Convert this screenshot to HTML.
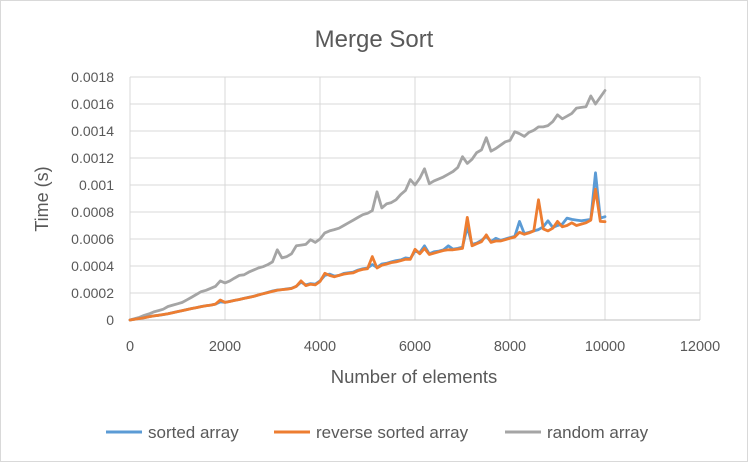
<!DOCTYPE html>
<html><head><meta charset="utf-8"><style>
body{margin:0;background:#fff;}
svg{display:block;font-family:"Liberation Sans",sans-serif;}
</style></head><body>
<svg id="chart" width="748" height="462" viewBox="0 0 748 462">
<rect x="0.5" y="0.5" width="747" height="461" fill="#fff" stroke="#d9d9d9"/>
<text x="374" y="47" text-anchor="middle" font-size="24" fill="#595959">Merge Sort</text>
<g id="grid"></g>
<g id="axes"></g>
<g id="series"></g>
<text x="414" y="383" text-anchor="middle" font-size="18.5" fill="#595959">Number of elements</text>
<text transform="translate(48,199) rotate(-90)" text-anchor="middle" font-size="18" fill="#595959">Time (s)</text>
<g>
<g><line x1="106" y1="432" x2="142" y2="432" stroke="#5b9bd5" stroke-width="3"/><text x="148" y="438" font-size="17" fill="#595959">sorted array</text></g>
<g><line x1="274" y1="432" x2="310" y2="432" stroke="#ed7d31" stroke-width="3"/><text x="316" y="438" font-size="17" fill="#595959">reverse sorted array</text></g>
<g><line x1="505" y1="432" x2="541" y2="432" stroke="#a5a5a5" stroke-width="3"/><text x="547" y="438" font-size="17" fill="#595959">random array</text></g>
</g>
</svg>
<script>
const xCategories=[0,100,200,300,400,500,600,700,800,900,1000,1100,1200,1300,1400,1500,1600,1700,1800,1900,2000,2100,2200,2300,2400,2500,2600,2700,2800,2900,3000,3100,3200,3300,3400,3500,3600,3700,3800,3900,4000,4100,4200,4300,4400,4500,4600,4700,4800,4900,5000,5100,5200,5300,5400,5500,5600,5700,5800,5900,6000,6100,6200,6300,6400,6500,6600,6700,6800,6900,7000,7100,7200,7300,7400,7500,7600,7700,7800,7900,8000,8100,8200,8300,8400,8500,8600,8700,8800,8900,9000,9100,9200,9300,9400,9500,9600,9700,9800,9900,10000];
const sortedVals=[0,0.05,0.12,0.18,0.25,0.3,0.35,0.4,0.47,0.55,0.62,0.7,0.78,0.85,0.92,1.0,1.05,1.1,1.18,1.35,1.3,1.38,1.45,1.52,1.6,1.68,1.75,1.85,1.95,2.05,2.15,2.22,2.25,2.3,2.35,2.5,2.8,2.6,2.7,2.65,2.9,3.3,3.4,3.25,3.3,3.45,3.5,3.55,3.7,3.8,3.85,4.1,3.9,4.15,4.2,4.3,4.4,4.45,4.6,4.55,5.1,5.0,5.5,4.9,5.05,5.1,5.2,5.5,5.25,5.3,5.4,6.9,5.6,5.7,5.9,6.2,5.8,6.05,5.9,6.0,6.1,6.2,7.3,6.4,6.5,6.6,6.7,6.9,7.35,6.85,7.0,7.1,7.55,7.45,7.4,7.35,7.4,7.45,10.9,7.55,7.65];
const reverseVals=[0,0.05,0.11,0.17,0.24,0.3,0.35,0.41,0.47,0.54,0.62,0.7,0.77,0.85,0.92,0.99,1.05,1.1,1.18,1.48,1.3,1.37,1.45,1.52,1.6,1.67,1.75,1.85,1.95,2.03,2.12,2.2,2.25,2.28,2.33,2.5,2.9,2.55,2.65,2.6,2.85,3.46,3.3,3.2,3.3,3.4,3.45,3.5,3.65,3.75,3.8,4.7,3.85,4.05,4.15,4.25,4.3,4.4,4.5,4.5,5.24,4.9,5.3,4.85,4.95,5.05,5.15,5.2,5.2,5.25,5.3,7.6,5.5,5.65,5.8,6.3,5.75,5.85,5.85,5.95,6.05,6.15,6.5,6.35,6.45,6.6,8.9,6.75,6.6,6.8,7.3,6.9,7.0,7.2,7.0,7.1,7.2,7.4,9.7,7.3,7.28];
const randomVals=[0,0.1,0.2,0.35,0.45,0.6,0.7,0.8,1.0,1.1,1.2,1.3,1.5,1.7,1.9,2.1,2.2,2.35,2.5,2.9,2.75,2.9,3.1,3.3,3.35,3.55,3.7,3.85,3.95,4.1,4.3,5.2,4.6,4.7,4.9,5.5,5.55,5.6,5.95,5.75,6.0,6.45,6.6,6.7,6.8,7.0,7.2,7.4,7.6,7.8,7.9,8.1,9.5,8.3,8.6,8.7,8.9,9.3,9.6,10.4,10.0,10.5,11.2,10.1,10.3,10.45,10.6,10.8,11.0,11.3,12.1,11.6,11.9,12.4,12.6,13.5,12.5,12.7,12.95,13.2,13.3,13.95,13.8,13.6,13.9,14.05,14.3,14.3,14.4,14.7,15.2,14.9,15.1,15.3,15.7,15.75,15.8,16.6,16.0,16.5,17.0];
const xTicks=[0,2000,4000,6000,8000,10000,12000];
const yTicks=[0,0.0002,0.0004,0.0006,0.0008,0.001,0.0012,0.0014,0.0016,0.0018];
const yTickLabels=["0","0.0002","0.0004","0.0006","0.0008","0.001","0.0012","0.0014","0.0016","0.0018"];
const NS='http://www.w3.org/2000/svg';
const X0=130,X1=700,Y0=320,Y1=77;
function xs(v){return X0+(v/12000)*(X1-X0);}
function ys(v){return Y0-(v/0.0018)*(Y0-Y1);}
const grid=document.getElementById('grid'),axes=document.getElementById('axes'),ser=document.getElementById('series');
function mk(t,a,p){const e=document.createElementNS(NS,t);for(const k in a)e.setAttribute(k,a[k]);p.appendChild(e);return e;}
yTicks.forEach((v,i)=>{
 const l=mk('line',{x1:X0,x2:X1,y1:ys(v),y2:ys(v),stroke:'#d9d9d9','stroke-width':1},grid);
 
 
 const t=mk('text',{x:114,y:ys(v)+5,'text-anchor':'end','font-size':14,fill:'#595959'},axes);
 t.textContent=yTickLabels[i];
 
 
});
xTicks.forEach(v=>{
 const l=mk('line',{x1:xs(v),x2:xs(v),y1:Y1,y2:Y0,stroke:'#d9d9d9','stroke-width':1},grid);
 
 
 const t=mk('text',{x:xs(v),y:351,'text-anchor':'middle','font-size':14.5,fill:'#595959'},axes);
 t.textContent=String(v);
 
 
});
const ax=mk('line',{x1:X0,x2:X1,y1:Y0,y2:Y0,stroke:'#bfbfbf','stroke-width':1},axes);


function line(vals,color,name){
 const d=vals.map((v,i)=>(i?'L':'M')+xs(xCategories[i]).toFixed(1)+','+ys(v*1e-4).toFixed(1)).join('');
 const p=mk('path',{d:d,fill:'none',stroke:color,'stroke-width':2.8,'stroke-linejoin':'round','stroke-linecap':'round'},ser);
 
 
}
line(randomVals,'#a5a5a5','random-array-line');
line(sortedVals,'#5b9bd5','sorted-array-line');
line(reverseVals,'#ed7d31','reverse-sorted-array-line');
</script>
</body></html>
